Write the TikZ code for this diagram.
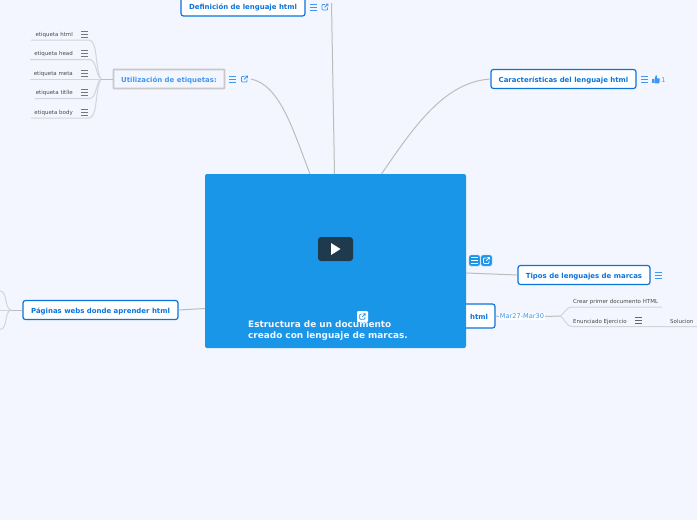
\documentclass[tikz,border=0pt]{standalone}
\usepackage{fontspec}
\setmainfont{DejaVu Sans}
\usetikzlibrary{arrows.meta,positioning}
\definecolor{pagebg}{HTML}{F3F6FF}
\definecolor{mainblue}{HTML}{1A96E8}
\definecolor{topicblue}{HTML}{0A73DC}
\definecolor{softblue}{HTML}{3F97F2}
\definecolor{linegray}{HTML}{BDBDBD}
\definecolor{leafgray}{HTML}{D2D4DC}
\definecolor{playdark}{HTML}{203A4D}
\definecolor{inkgray}{HTML}{4A4A4A}
\definecolor{boxgray}{HTML}{C6C8CC}
\tikzset{
  listicon/.pic={
    \draw[pic actions] (-3.5,-3) -- (3.5,-3) (-3.5,0) -- (3.5,0) (-3.5,3) -- (3.5,3);
  },
  linkicon/.pic={
    \draw[pic actions, rounded corners=.8pt] (3,0.5) -- (3,3.5) -- (-3.5,3.5) -- (-3.5,-3) -- (0,-3);
    \draw[pic actions] (-0.5,0.5) -- (3.5,-3.5) (1,-3.5) -- (3.5,-3.5) -- (3.5,-1);
  },
  thumbicon/.pic={
    \fill[softblue] (-4,-0.5) rectangle (-2.2,4);
    \fill[softblue, rounded corners=.6pt] (-1.6,-0.5) -- (-0.2,-4.5) -- (1,-4.5) -- (0.8,-1.2) -- (4,-1.2) -- (3.6,4) -- (-1.6,4) -- cycle;
  },
}
\begin{document}
\begin{tikzpicture}[
    x=1pt, y=-1pt,
    topic/.style={rectangle, draw=topicblue, line width=1.2pt, fill=white, rounded corners=2.5pt,
                  inner sep=0pt, minimum height=19pt, text height=6.5pt, text depth=.5pt,
                  text=topicblue, font=\fontsize{6.95}{9}\bfseries\selectfont},
    grayed/.style={topic, draw=boxgray, line width=1.6pt, rounded corners=.5pt, fill=pagebg, text=softblue},
    leaf/.style={inner sep=0pt, text height=5pt, text depth=1pt, text=inkgray, font=\fontsize{5.5}{7}\selectfont},
    dates/.style={inner sep=1pt, fill=white, text=softblue, font=\fontsize{6.6}{8}\selectfont},
    cn/.style={draw=linegray, line width=1pt},
    lf/.style={draw=leafgray, line width=1pt},
    lt/.style={draw=softblue, line width=.8pt},
    wt/.style={draw=white, line width=.8pt},
    chip/.style={fill=mainblue, draw=softblue!40, line width=.4pt, rounded corners=1.5pt,
                 minimum size=11pt, inner sep=0pt},
  ]
  \clip (0,0) rectangle (697,520);
  \fill[pagebg] (0,0) rectangle (697,520);
  % topics
  \node[topic, minimum width=124pt] (def) at (243,6.5) {Definición de lenguaje html};
  \node[grayed, minimum width=111pt] (util) at (169,79) {Utilización de etiquetas:};
  \node[topic, minimum width=145pt] (carac) at (563.5,79) {Características del lenguaje html};
  \node[topic, minimum width=132pt] (tipos) at (584,275) {Tipos de lenguajes de marcas};
  \node[topic, minimum width=155pt] (pag) at (100.5,310) {Páginas webs donde aprender html};
  \node[topic, minimum width=50pt, minimum height=24pt] (html) at (470,316) {\hspace{18pt}html};
  % central topic
  \node[rectangle, fill=mainblue, rounded corners=2pt, minimum width=261pt, minimum height=174pt,
        inner sep=0pt] (main) at (335.5,261) {};
  \node[rectangle, fill=playdark, rounded corners=3pt, minimum width=35pt, minimum height=24pt,
        inner sep=0pt] (play) at (335.5,249) {};
  \fill[white] (331,243) -- (340.5,249) -- (331,255) -- cycle;
  \node[anchor=north west, inner sep=0pt, text=pagebg, align=left,
        font=\fontsize{8.9}{11}\bfseries\selectfont] (title) at (248,320.5)
        {Estructura de un documento\\creado con lenguaje de marcas.};
  \node[fill=white, rounded corners=1pt, minimum size=11pt, inner sep=0pt] (mainlink) at (362.5,316.5) {};
  \pic[draw=mainblue, line width=.7pt, scale=.8] at (362.5,316.5) {linkicon};
  % leaves on the left
  \node[leaf, anchor=east] (l1) at (73,34) {etiqueta html};
  \node[leaf, anchor=east] (l2) at (73,53.5) {etiqueta head};
  \node[leaf, anchor=east] (l3) at (73,73) {etiqueta meta};
  \node[leaf, anchor=east] (l4) at (73,92.5) {etiqueta titlle};
  \node[leaf, anchor=east] (l5) at (73,112.5) {etiqueta body};
  \foreach \yy in {34,53.5,73,92.5,112.5}
    \pic[draw=inkgray!75, line width=1pt] at (84.5,\yy) {listicon};
  \coordinate (hub) at (101,79);
  \coordinate (e1) at (31,40);
  \coordinate (e2) at (30,59.5);
  \coordinate (e3) at (30,79);
  \coordinate (e4) at (35,98.5);
  \coordinate (e5) at (31,118);
  \draw[lf] (e1) -- (89,40) .. controls (98,40) and (95,70) .. (hub);
  \draw[lf] (e2) -- (89,59.5) .. controls (97,59.5) and (95,74) .. (hub);
  \draw[lf] (e3) -- (hub);
  \draw[lf] (e4) -- (89,98.5) .. controls (97,98.5) and (95,84) .. (hub);
  \draw[lf] (e5) -- (89,118) .. controls (98,118) and (95,88) .. (hub);
  \draw[cn] (hub) -- (util.west);
  % icons beside the topics
  \pic[lt] at (313,7) {listicon};
  \pic[lt, scale=.85] at (325,7) {linkicon};
  \pic[lt] at (232.5,79) {listicon};
  \pic[lt, scale=.85] at (244.5,79) {linkicon};
  \pic[lt] at (644.5,79.5) {listicon};
  \pic[scale=.95] at (656,79.5) {thumbicon};
  \node[inner sep=0pt, text=softblue, font=\fontsize{6.5}{8}\selectfont] (votes) at (663.5,80) {1};
  \pic[lt] at (658,275) {listicon};
  \node[chip] (tlist) at (474.5,260.5) {};
  \node[chip] (tlink) at (486.5,260.5) {};
  \pic[wt] at (tlist) {listicon};
  \pic[wt, scale=.85] at (tlink) {linkicon};
  % connectors to the central topic
  \coordinate (udock) at (251,79);
  \coordinate (ddock) at (331.5,3);
  \coordinate (d2) at (334.5,174);
  \draw[cn] (udock) .. controls (280,85) and (293,130) .. (310,174);
  \draw[cn] (ddock) -- (d2);
  \draw[cn] (carac.west) .. controls (445,82) and (415,125) .. (381.5,174);
  \draw[cn] (466,273) -- (tipos.west);
  \draw[cn] (pag.east) -- (205,308.5);
  % left side of paginas
  \coordinate (phub) at (11,310);
  \coordinate (pa) at (0,291);
  \coordinate (pb) at (0,310);
  \coordinate (pc) at (0,329.5);
  \draw[cn] (pag.west) -- (phub);
  \draw[lf] (pb) -- (phub);
  \draw[lf] (pa) .. controls (8,292) and (4,308) .. (phub);
  \draw[lf] (pc) .. controls (8,329) and (4,312) .. (phub);
  % branch on the right
  \node[dates] (fecha) at (522,316.5) {Mar27-Mar30};
  \draw[cn] (html.east) -- (fecha.west);
  \coordinate (rhub) at (560,316);
  \coordinate (r1) at (662,307);
  \coordinate (r2) at (697,326.5);
  \draw[cn] (fecha.east) -- (rhub);
  \draw[lf] (rhub) .. controls (565,314) and (565,307) .. (573,307) -- (r1);
  \draw[lf] (rhub) .. controls (565,318) and (565,326.5) .. (573,326.5) -- (r2);
  \node[leaf, anchor=west] (crear) at (573,301) {Crear primer documento HTML};
  \node[leaf, anchor=west] (enun) at (573,321) {Enunciado Ejercicio};
  \node[leaf, anchor=west] (sol) at (670,321) {Solucion};
  \pic[draw=inkgray!85, line width=.8pt] at (638,320.5) {listicon};
\end{tikzpicture}
\end{document}
